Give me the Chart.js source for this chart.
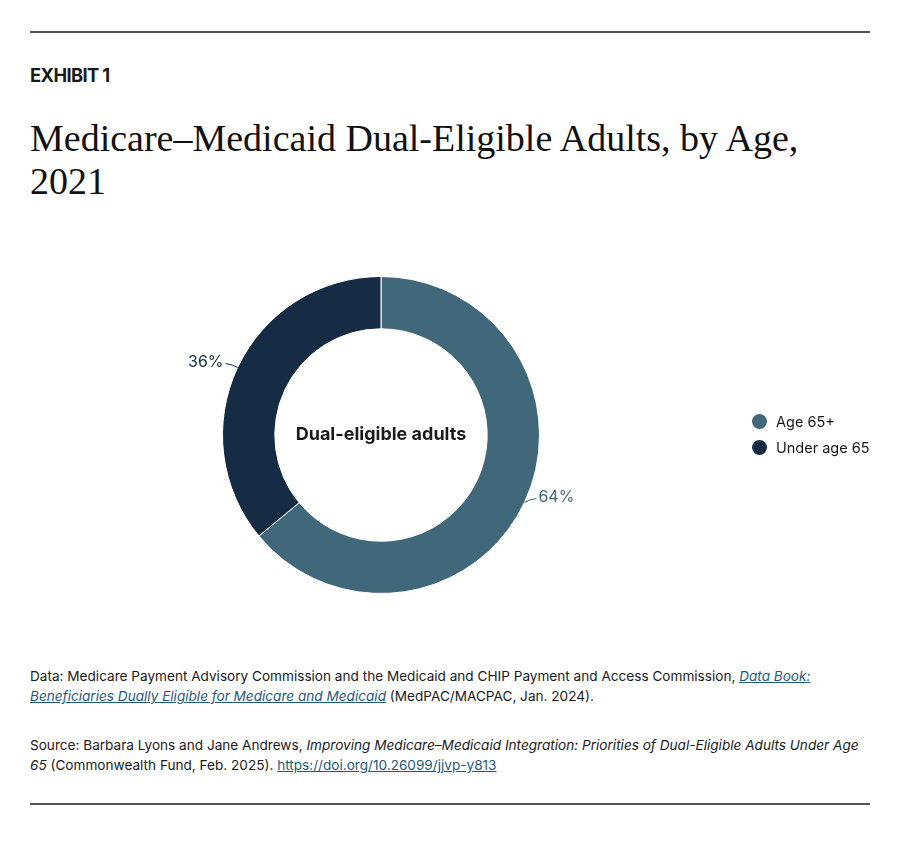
<!DOCTYPE html>
<html>
<head>
<meta charset="utf-8">
<script src="https://cdn.jsdelivr.net/npm/chart.js@4.4.1/dist/chart.umd.min.js"></script>
<style>
  body { margin: 0; background: #fff; font-family: Inter, "Liberation Sans", sans-serif; color: #1a1a1a; }
  .page { position: relative; width: 900px; height: 867px; }
  .rule { position: absolute; left: 30px; width: 840px; height: 2px; background: #555; }
  .exhibit { position: absolute; left: 30px; top: 64px; font-weight: 700; font-size: 18.3px; letter-spacing: -0.6px; }
  h1 { position: absolute; left: 30px; top: 117px; margin: 0; width: 800px; font-family: "Liberation Serif", serif; font-weight: 400; font-size: 38px; line-height: 43px; color: #111; }
  .chart-box { position: absolute; left: 0; top: 230px; width: 900px; height: 410px; }
  .legend { position: absolute; left: 752px; top: 408px; font-size: 14.5px; }
  .legend div { display: flex; align-items: center; height: 26px; }
  .legend span.dot { width: 15px; height: 15px; border-radius: 50%; margin-right: 9px; }
  .notes { position: absolute; left: 30px; top: 666px; width: 840px; font-size: 13.6px; line-height: 20px; color: #1a1a1a; }
  .notes p { margin: 0 0 29px 0; }
  .notes a { color: #1f5a7a; text-decoration: underline; }
</style>
</head>
<body>
<div class="page">
  <div class="rule" style="top:31px"></div>
  <div class="exhibit">EXHIBIT 1</div>
  <h1>Medicare–Medicaid Dual-Eligible Adults, by Age, 2021</h1>
  <div class="chart-box"><canvas id="chart" width="900" height="410"></canvas></div>
  <div class="legend" id="legend"></div>
  <div class="notes">
    <p>Data: Medicare Payment Advisory Commission and the Medicaid and CHIP Payment and Access Commission, <a><i>Data Book: Beneficiaries Dually Eligible for Medicare and Medicaid</i></a> (MedPAC/MACPAC, Jan. 2024).</p>
    <p>Source: Barbara Lyons and Jane Andrews, <i>Improving Medicare–Medicaid Integration: Priorities of Dual-Eligible Adults Under Age 65</i> (Commonwealth Fund, Feb. 2025). <a>https://doi.org/10.26099/jjvp-y813</a></p>
  </div>
  <div class="rule" style="top:803px"></div>
</div>
<script>
const categories = ["Age 65+", "Under age 65"];
const shares = [64, 36];
const colors = ["#41677a", "#162c45"];
const centerLabel = "Dual-eligible adults";

// html legend
const legend = document.getElementById("legend");
categories.forEach((c, i) => {
  let row = document.createElement("div");
  row.innerHTML = `<span class="dot" style="background:${colors[i]}"></span>${c}`;
  legend.appendChild(row);
});

// percent labels with short leader lines + center text
const labelPlugin = {
  id: "labels",
  afterDraw(chart) {
    const ctx = chart.ctx;
    const meta = chart.getDatasetMeta(0);
    ctx.save();
    meta.data.forEach((arc, i) => {
      const mid = (arc.startAngle + arc.endAngle) / 2;
      const r = arc.outerRadius;
      const x0 = arc.x + Math.cos(mid) * r;
      const y0 = arc.y + Math.sin(mid) * r;
      const right = Math.cos(mid) >= 0;
      const dx = right ? 12 : -12;
      ctx.strokeStyle = colors[i];
      ctx.lineWidth = 1;
      ctx.beginPath();
      ctx.moveTo(x0, y0);
      ctx.quadraticCurveTo(x0 + dx * 0.4, y0 - 3, x0 + dx, y0 - 4);
      ctx.stroke();
      ctx.fillStyle = colors[i];
      ctx.font = "16px Inter, sans-serif";
      ctx.textAlign = right ? "left" : "right";
      ctx.textBaseline = "middle";
      ctx.fillText(shares[i] + "%", x0 + dx + (right ? 2 : -2), y0 - 5);
    });
    const a = meta.data[0];
    ctx.fillStyle = "#1a1a1a";
    ctx.font = "bold 18px Inter, sans-serif";
    ctx.textAlign = "center";
    ctx.textBaseline = "middle";
    ctx.fillText(centerLabel, a.x, a.y);
    ctx.restore();
  }
};

new Chart(document.getElementById("chart"), {
  type: "doughnut",
  data: {
    labels: categories,
    datasets: [{
      data: shares,
      backgroundColor: colors,
      borderColor: "#ffffff",
      borderWidth: 1,
      hoverOffset: 0,
    }],
  },
  options: {
    responsive: false,
    animation: false,
    cutout: "67%",
    layout: { padding: { left: 222, right: 360, top: 46, bottom: 46 } },
    plugins: {
      legend: { display: false },
      tooltip: { enabled: false },
    },
  },
  plugins: [labelPlugin],
});
</script>
</body>
</html>
